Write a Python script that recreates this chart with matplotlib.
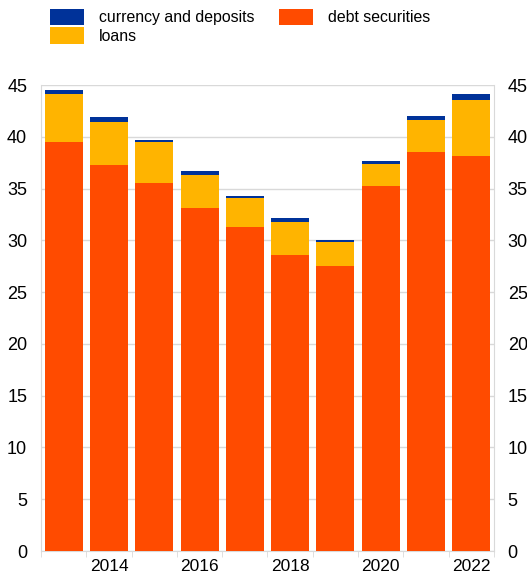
import matplotlib
matplotlib.use("Agg")
import matplotlib.pyplot as plt
import numpy as np

plt.rcParams['font.family'] = ['Liberation Sans', 'DejaVu Sans']

years = [2013, 2014, 2015, 2016, 2017, 2018, 2019, 2020, 2021, 2022]
debt_securities = [39.5, 37.3, 35.5, 33.1, 31.3, 28.6, 27.5, 35.2, 38.5, 38.1]
loans = [4.6, 4.1, 3.95, 3.2, 2.75, 3.2, 2.35, 2.2, 3.1, 5.5]
currency_deposits = [0.4, 0.5, 0.25, 0.35, 0.25, 0.35, 0.23, 0.3, 0.45, 0.5]

c_debt = '#FF4B00'
c_loans = '#FFB400'
c_dep = '#003299'
grid_c = '#d9d9d9'

fig = plt.figure(figsize=(5.27, 5.76), dpi=100)
ax = fig.add_axes([0.078, 0.0434, 0.859, 0.809])

x = np.arange(len(years))
w = 0.84
debt = np.array(debt_securities)
ln = np.array(loans)
dep = np.array(currency_deposits)

b_debt = ax.bar(x, debt, w, color=c_debt, zorder=3)
b_loans = ax.bar(x, ln, w, bottom=debt, color=c_loans, zorder=3)
b_dep = ax.bar(x, dep, w, bottom=debt + ln, color=c_dep, zorder=3)

ax.set_xlim(-0.5, len(years) - 0.5)
ax.set_ylim(0, 45)
ax.set_yticks(range(0, 46, 5))
ax.yaxis.grid(True, color=grid_c, linewidth=1, zorder=0)

# year labels on even years, small tick marks between bars
lab_idx = [i for i, y in enumerate(years) if y % 2 == 0]
ax.set_xticks(lab_idx)
ax.set_xticklabels([str(years[i]) for i in lab_idx])
ax.set_xticks(np.arange(-0.5, len(years), 1), minor=True)
ax.tick_params(axis='x', which='major', length=0, labelsize=12.5, pad=6)
ax.tick_params(axis='x', which='minor', length=4, color=grid_c, direction='out')
ax.tick_params(axis='y', length=0, labelsize=13, labelright=True, pad=10)

ax.spines['top'].set_visible(False)
for s in ['left', 'right', 'bottom']:
    ax.spines[s].set_color(grid_c)

fig.legend([b_dep, b_loans, b_debt],
           ['currency and deposits', 'loans', 'debt securities'],
           ncol=2, loc='upper left', bbox_to_anchor=(0.076, 1.003),
           frameon=False, fontsize=11.4, handlelength=2.1, handleheight=1.25,
           columnspacing=1.6, labelspacing=0.12, handletextpad=0.95,
           borderaxespad=0.25)

fig.savefig('out.png', dpi=100)
